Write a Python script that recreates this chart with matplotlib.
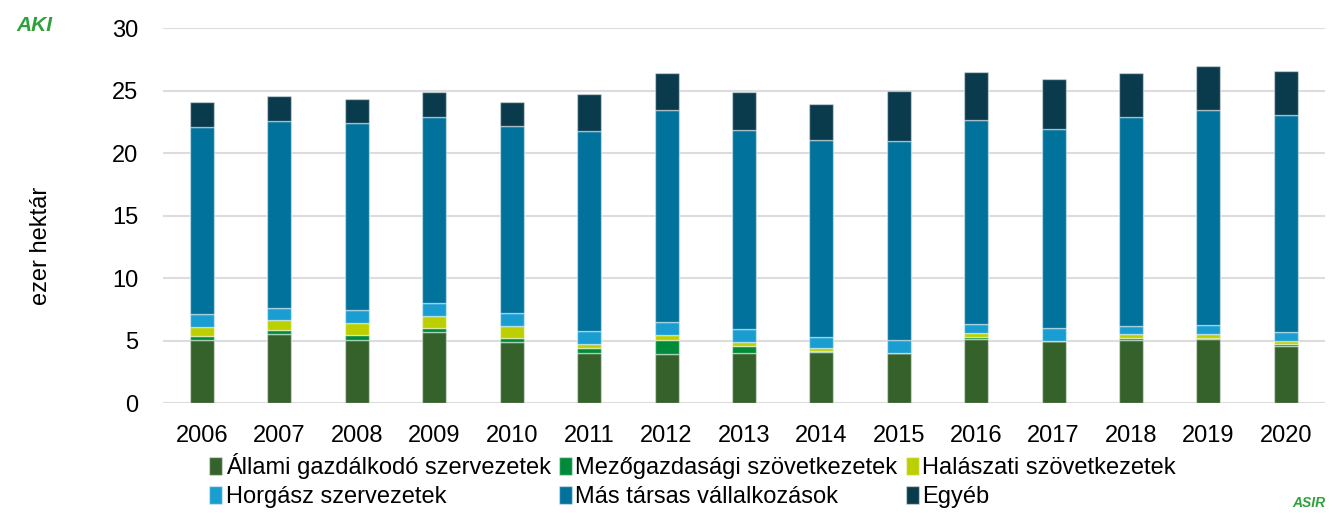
import numpy as np
import matplotlib
matplotlib.use('Agg')
import matplotlib.pyplot as plt

plt.rcParams['font.family'] = ['Liberation Sans', 'DejaVu Sans']

years = ['2006', '2007', '2008', '2009', '2010', '2011', '2012', '2013',
         '2014', '2015', '2016', '2017', '2018', '2019', '2020']

allami = [5.04, 5.56, 5.04, 5.72, 4.88, 4.03, 3.95, 4.03, 4.08, 4.00, 5.15, 4.99, 5.07, 5.10, 4.56]
mezo = [0.30, 0.29, 0.41, 0.26, 0.36, 0.37, 1.09, 0.53, 0.11, 0.00, 0.14, 0.00, 0.11, 0.14, 0.16]
halasz = [0.75, 0.78, 0.94, 0.97, 0.90, 0.35, 0.38, 0.30, 0.21, 0.00, 0.32, 0.00, 0.35, 0.29, 0.28]
horgasz = [1.02, 1.02, 1.04, 1.04, 1.05, 1.02, 1.05, 1.04, 0.86, 1.02, 0.75, 0.99, 0.64, 0.72, 0.66]
mas = [14.97, 14.96, 14.97, 14.91, 14.99, 15.99, 16.99, 15.94, 15.78, 15.94, 16.30, 15.99, 16.73, 17.21, 17.40]
egyeb = [2.00, 1.97, 1.97, 2.00, 1.95, 2.98, 2.94, 3.04, 2.90, 4.02, 3.82, 4.00, 3.55, 3.54, 3.52]

series = [
    ('Állami gazdálkodó szervezetek', allami, '#35622b'),
    ('Mezőgazdasági szövetkezetek', mezo, '#008b3a'),
    ('Halászati szövetkezetek', halasz, '#bccf00'),
    ('Horgász szervezetek', horgasz, '#1a9dd1'),
    ('Más társas vállalkozások', mas, '#00729b'),
    ('Egyéb', egyeb, '#0a3b4d'),
]

fig = plt.figure(figsize=(13.38, 5.13), dpi=100)
ax = fig.add_axes([0.122, 0.214, 0.868, 0.731])

x = np.arange(len(years))
bottom = np.zeros(len(years))
for label, vals, col in series:
    vals = np.array(vals)
    ax.bar(x, vals, bottom=bottom, width=0.31, color=col, label=label,
           edgecolor=(1, 1, 1, 0.45), linewidth=1, zorder=3)
    bottom += vals

ax.set_xlim(-0.5, len(years) - 0.5)
ax.set_ylim(0, 30)
ax.set_yticks(range(0, 31, 5))
ax.set_xticks(x)
ax.set_xticklabels(years)
ax.grid(axis='y', color='#dcdcdc', lw=1.5, zorder=0)
for s in ax.spines.values():
    s.set_visible(False)
ax.tick_params(length=0, labelsize=17, colors='black')
ax.tick_params(axis='y', pad=18)
ax.tick_params(axis='x', pad=16)

fig.text(0.031, 0.52, 'ezer hektár', rotation=90, fontsize=17,
         ha='center', va='center')

# legend filled row by row like the original
h, l = ax.get_legend_handles_labels()
order = [0, 3, 1, 4, 2, 5]
ax.legend([h[i] for i in order], [l[i] for i in order],
          loc='lower left', bbox_to_anchor=(0.1475, -0.014), bbox_transform=fig.transFigure,
          ncol=3, frameon=False, fontsize=17, handlelength=0.55, handleheight=0.75,
          handletextpad=0.15, columnspacing=0.35, labelspacing=0.3, borderaxespad=0.1)

# logos as text
fig.text(0.026, 0.95, 'AKI', color='#2ea13a', fontsize=15, fontweight='bold',
         fontstyle='italic', ha='center', va='center')
fig.text(0.978, 0.02, 'ASIR', color='#2ea13a', fontsize=10, fontweight='bold',
         fontstyle='italic', ha='center', va='center')

plt.savefig('out.png', dpi=100)
